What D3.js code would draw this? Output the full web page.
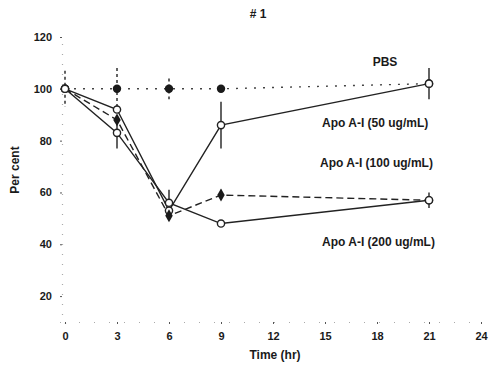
<!DOCTYPE html>
<html><head><meta charset="utf-8">
<script src="https://cdn.jsdelivr.net/npm/d3@7"></script>
<style>body{margin:0;background:#fff}svg{display:block}text{font-family:"Liberation Sans",Arial,sans-serif;fill:#1a1a1a}</style>
</head><body><svg id="c" width="496" height="367"></svg>
<script>
const hours = [0, 3, 6, 9, 21];
const xTicks = [0, 3, 6, 9, 12, 15, 18, 21, 24];
const yTicks = [20, 40, 60, 80, 100, 120];
const pbs = [100, 100, 100, 100, 102];
const apo50 = [100, 92, 53, 86, 102];
const apo100 = [100, 88, 51, 59, 57];
const apo200 = [100, 83, 56, 48, 57];
const pbsErr = [7, 8, 4, 0, 0];
const apo50Err = [0, 0, 3, 9, 6];
const apo100Err = [0, 0, 0, 2, 0];
const apo200Err = [0, 6, 5, 0, 3];
const seriesNames = ["PBS", "Apo A-I (50 ug/mL)", "Apo A-I (100 ug/mL)", "Apo A-I (200 ug/mL)"];

const svg = d3.select("#c");
const x = d3.scaleLinear().domain([0, 24]).range([65, 481]);
const y = d3.scaleLinear().domain([10, 120]).range([322, 37]);

const xAxis = d3.axisBottom(x).tickValues(xTicks).tickSize(2).tickPadding(12).tickFormat(d3.format("d"));
const gx = svg.append("g").attr("transform", "translate(0,322)").call(xAxis);
gx.select(".domain").attr("stroke", "#aaa").attr("stroke-dasharray", "1,14").attr("stroke-width", 1.2);
gx.selectAll(".tick line").attr("stroke", "#555");
gx.selectAll("text").attr("font-size", 11).attr("font-weight", "bold").attr("fill", "#1a1a1a").attr("dy", "0.35em");

const yAxis = d3.axisLeft(y).tickValues(yTicks).tickSize(2).tickPadding(8).tickFormat(d3.format("d"));
const gy = svg.append("g").attr("transform", "translate(62,0)").call(yAxis);
gy.select(".domain").attr("stroke", "#aaa").attr("stroke-dasharray", "1,9").attr("stroke-width", 1.2);
gy.selectAll(".tick line").attr("stroke", "#555");
gy.selectAll("text").attr("font-size", 11).attr("font-weight", "bold").attr("fill", "#1a1a1a");

const series = [
  {name: seriesNames[0], vals: pbs, err: pbsErr, dash: "2,7", marker: "filled"},
  {name: seriesNames[1], vals: apo50, err: apo50Err, dash: null, marker: "open"},
  {name: seriesNames[2], vals: apo100, err: apo100Err, dash: "7,4", marker: "diamond"},
  {name: seriesNames[3], vals: apo200, err: apo200Err, dash: null, marker: "open"}
];

const line = d3.line().x((d, i) => x(hours[i])).y(d => y(d));

series.forEach(s => {
  svg.append("path").datum(s.vals).attr("d", line)
    .attr("fill", "none").attr("stroke", s.marker === "filled" ? "#444" : "#222").attr("stroke-width", 1.4)
    .attr("stroke-dasharray", s.dash);
  s.vals.forEach((v, i) => {
    if (s.err[i] > 0) {
      svg.append("line").attr("x1", x(hours[i])).attr("x2", x(hours[i]))
        .attr("y1", y(v + s.err[i])).attr("y2", y(v - s.err[i]))
        .attr("stroke", "#222").attr("stroke-width", 1.4)
        .attr("stroke-dasharray", s.dash ? "3,3" : null);
    }
  });
});

series.forEach(s => {
  s.vals.forEach((v, i) => {
    const cx = x(hours[i]), cy = y(v);
    if (i === 0 || s.marker === "open" || i === 4) {
      svg.append("circle").attr("cx", cx).attr("cy", cy).attr("r", 3.6)
        .attr("fill", "#fff").attr("stroke", "#222").attr("stroke-width", 1.4);
    } else if (s.marker === "filled") {
      svg.append("circle").attr("cx", cx).attr("cy", cy).attr("r", 4.2).attr("fill", "#1a1a1a");
    } else {
      svg.append("path").attr("d", d3.symbol(d3.symbolDiamond, 48)())
        .attr("transform", `translate(${cx},${cy})`).attr("fill", "#1a1a1a");
    }
  });
});

const lab = [
  {t: "# 1", x: 258, y: 18, a: "middle"},
  {t: seriesNames[0], x: 385, y: 66, a: "middle"},
  {t: seriesNames[1], x: 322, y: 127, a: "start"},
  {t: seriesNames[2], x: 320, y: 167, a: "start"},
  {t: seriesNames[3], x: 322, y: 246, a: "start"}
];
lab.forEach(l => svg.append("text").attr("x", l.x).attr("y", l.y).attr("text-anchor", l.a)
  .attr("font-size", 12).attr("font-weight", "bold").text(l.t));

svg.append("text").attr("x", 275).attr("y", 359).attr("text-anchor", "middle")
  .attr("font-size", 12).attr("font-weight", "bold").text("Time (hr)");
svg.append("text").attr("transform", "translate(19,170) rotate(-90)").attr("text-anchor", "middle")
  .attr("font-size", 12).attr("font-weight", "bold").text("Per cent");
</script></body></html>
